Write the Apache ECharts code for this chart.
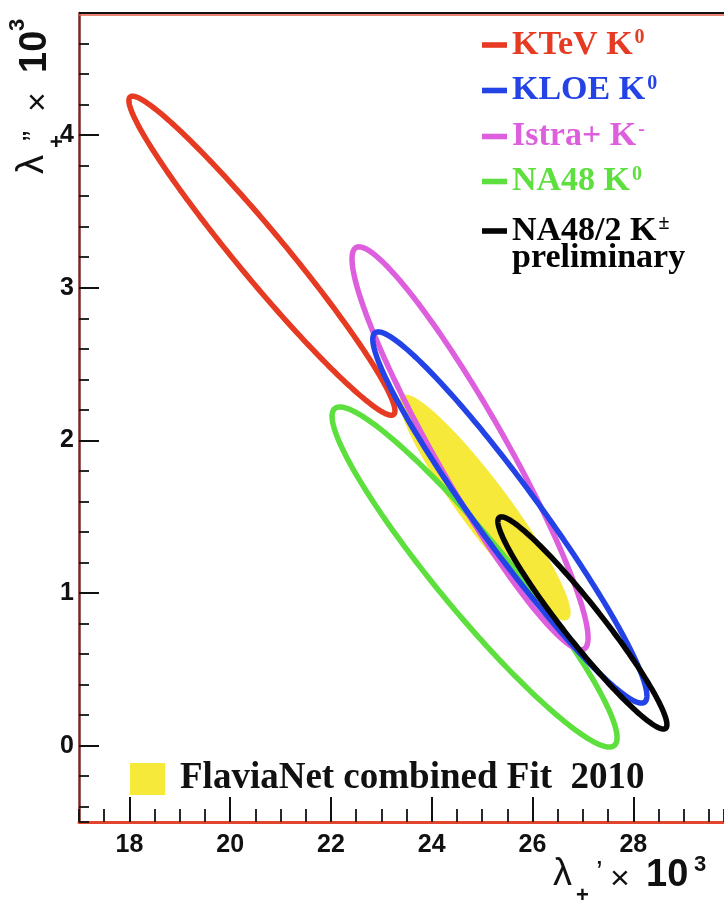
<!DOCTYPE html>
<html>
<head>
<meta charset="utf-8">
<script src="https://cdn.jsdelivr.net/npm/echarts@6/dist/echarts.min.js"></script>
<style>
  html, body { margin: 0; padding: 0; background: #ffffff; }
  #chart { width: 724px; height: 904px; }
</style>
</head>
<body>
<div id="chart"></div>
<script>
// K_l3 vector form-factor slopes: 1-sigma contours in the (λ+', λ+'') plane, both ×10^3
const experiments = ['KTeV K', 'KLOE K', 'Istra+ K', 'NA48 K', 'NA48/2 K'];
const kaonCharge  = ['0', '0', '-', '0', '±'];
const lambdaLin   = [20.63, 25.55, 24.76, 24.85, 26.99];     // contour centre in λ+'
const lambdaQuad  = [3.21, 1.495, 1.948, 1.105, 0.804];      // contour centre in λ+''
const spanLin     = [2.64, 2.72, 2.342, 2.828, 1.677];       // half-extent along λ+'
const spanQuad    = [1.045, 1.216, 1.32, 1.114, 0.695];      // half-extent along λ+''
const correlation = [-0.972, -0.96, -0.94, -0.945, -0.958];
const lineColors  = ['#e63b22', '#2443e6', '#dd5fdd', '#5ddf3e', '#050505'];

// FlaviaNet combined fit 2010
const fitLabel = 'FlaviaNet combined Fit  2010';
const fitLin = 25.06, fitQuad = 1.56, fitSpanLin = 1.687, fitSpanQuad = 0.737, fitCorr = -0.935;

const xTickLabels = [18, 20, 22, 24, 26, 28];
const yTickLabels = [0, 1, 2, 3, 4];

const X_MIN = 17, X_MAX = 29.8, Y_MIN = -0.5, Y_MAX = 4.8;

// Contour of a correlated pair: x = cx + sx cos t, y = cy + sy cos(t + acos(rho))
function contourPoints(api) {
  const cx = api.value(0), cy = api.value(1);
  const sx = api.value(2), sy = api.value(3), rho = api.value(4);
  const delta = Math.acos(rho);
  const pts = [];
  const n = 240;
  for (let i = 0; i < n; i++) {
    const t = (i / n) * 2 * Math.PI;
    pts.push(api.coord([cx + sx * Math.cos(t), cy + sy * Math.cos(t + delta)]));
  }
  return pts;
}

function contourSeries(name, row, color, filled) {
  return {
    name: name,
    type: 'custom',
    xAxisIndex: 0,
    yAxisIndex: 0,
    clip: true,
    encode: { x: 0, y: 1 },
    data: [row],
    renderItem: function (params, api) {
      return {
        type: 'polygon',
        shape: { points: contourPoints(api), smooth: 0 },
        style: filled
          ? { fill: color, stroke: color, lineWidth: 1 }
          : { fill: 'none', stroke: color, lineWidth: 5.5, lineJoin: 'round' }
      };
    }
  };
}

const series = [contourSeries('FlaviaNet', [fitLin, fitQuad, fitSpanLin, fitSpanQuad, fitCorr], '#f7e93a', true)];
const drawOrder = [0, 3, 2, 1, 4];
drawOrder.forEach(function (i) {
  series.push(contourSeries(experiments[i], [lambdaLin[i], lambdaQuad[i], spanLin[i], spanQuad[i], correlation[i]], lineColors[i], false));
});

const serif = "'Liberation Serif', 'Times New Roman', serif";
const sans = "'Liberation Sans', Arial, Helvetica, sans-serif";

// legend rows (top right)
const legendY = [45, 90.5, 136.5, 181.5, 231];
const graphics = [];
experiments.forEach(function (label, i) {
  graphics.push({
    type: 'rect', z: 100,
    shape: { x: 482, y: legendY[i] - 2.8, width: 25, height: 5.6 },
    style: { fill: lineColors[i] }
  });
  graphics.push({
    type: 'text', z: 100, x: 512, y: legendY[i],
    style: {
      text: '{m|' + label + '}{s|' + kaonCharge[i] + '}',
      align: 'left', verticalAlign: 'middle',
      rich: {
        m: { fontFamily: serif, fontWeight: 'bold', fontSize: 34, fill: lineColors[i], lineHeight: 34 },
        s: { fontFamily: serif, fontWeight: 'bold', fontSize: 20, fill: lineColors[i], verticalAlign: 'top', lineHeight: 18, padding: [0, 0, 0, 2] }
      }
    }
  });
});
graphics.push({
  type: 'text', z: 100, x: 512, y: 258,
  style: { text: 'preliminary', fontFamily: serif, fontWeight: 'bold', fontSize: 34, fill: '#050505', align: 'left', verticalAlign: 'middle' }
});

// combined-fit legend (bottom)
graphics.push({ type: 'rect', z: 100, shape: { x: 130, y: 763, width: 35, height: 32 }, style: { fill: '#f7e93a' } });
graphics.push({
  type: 'text', z: 100, x: 180, y: 778,
  style: { text: fitLabel, fontFamily: serif, fontWeight: 'bold', fontSize: 37, fill: '#111111', align: 'left', verticalAlign: 'middle' }
});

// frame: upper border
graphics.push({ type: 'line', z: 90, shape: { x1: 79, y1: 13, x2: 724, y2: 13 }, style: { stroke: '#111111', lineWidth: 2 } });
graphics.push({ type: 'line', z: 90, shape: { x1: 79, y1: 15, x2: 724, y2: 15 }, style: { stroke: '#e35a4a', lineWidth: 1.5 } });

// axis-title text pieces
function t(x, y, text, size, weight, family, align) {
  return { type: 'text', x: x, y: y, style: { text: text, fontSize: size, fontWeight: weight || 'normal', fontFamily: family || sans, fill: '#111111', align: align || 'left', verticalAlign: 'middle' } };
}
// x-axis title: λ+' × 10^3
graphics.push({
  type: 'group', z: 100,
  children: [
    t(553, 875, 'λ', 38),
    t(576, 896, '+', 22, 'bold'),
    t(596, 873, '\u2019', 30),
    t(610, 880, '\u00d7', 34),
    t(646, 876, '10', 38, 'bold'),
    t(694, 865, '3', 22, 'bold')
  ]
});
// y-axis title: λ+'' × 10^3, rotated
graphics.push({
  type: 'group', z: 100, x: 0, y: 0, rotation: Math.PI / 2,
  children: [
    t(-174, 33, 'λ', 38),
    t(-148, 58, '+', 22, 'bold'),
    t(-141, 35, '\u201d', 30),
    t(-112, 39, '\u00d7', 34),
    t(-73, 36, '10', 38, 'bold'),
    t(-31, 18, '3', 22, 'bold')
  ]
});

const chart = echarts.init(document.getElementById('chart'), null, { renderer: 'canvas' });
chart.setOption({
  backgroundColor: '#ffffff',
  animation: false,
  grid: { left: 79, right: 0, top: 13, bottom: 82, containLabel: false },
  xAxis: [
    {
      type: 'value', min: X_MIN, max: X_MAX, splitNumber: 6,
      axisLine: { show: true, onZero: false, lineStyle: { color: '#e2442d', width: 3 } },
      axisTick: { show: true, inside: true, length: 25, lineStyle: { color: '#111111', width: 2 } },
      axisLabel: {
        show: true, margin: 11, showMinLabel: false, showMaxLabel: false,
        fontFamily: sans, fontWeight: 'bold', fontSize: 25, color: '#111111',
        formatter: function (v) { return xTickLabels.indexOf(Math.round(v * 1000) / 1000) >= 0 ? String(v) : ''; }
      },
      splitLine: { show: false }
    },
    {
      type: 'value', min: X_MIN, max: X_MAX, splitNumber: 25, position: 'bottom',
      axisLine: { show: false, onZero: false },
      axisTick: { show: true, inside: true, length: 13, lineStyle: { color: '#111111', width: 1.8 } },
      axisLabel: { show: false },
      splitLine: { show: false }
    }
  ],
  yAxis: [
    {
      type: 'value', min: Y_MIN, max: Y_MAX, splitNumber: 5,
      axisLine: { show: true, onZero: false, lineStyle: { color: '#7a2626', width: 2.5 } },
      axisTick: { show: true, inside: true, length: 20, lineStyle: { color: '#111111', width: 2 } },
      axisLabel: {
        show: true, margin: 5, showMinLabel: false, showMaxLabel: false,
        fontFamily: sans, fontWeight: 'bold', fontSize: 25, color: '#111111',
        formatter: function (v) { return yTickLabels.indexOf(Math.round(v * 1000) / 1000) >= 0 ? String(v) : ''; }
      },
      splitLine: { show: false }
    },
    {
      type: 'value', min: Y_MIN, max: Y_MAX, splitNumber: 26, position: 'left',
      axisLine: { show: false, onZero: false },
      axisTick: { show: true, inside: true, length: 10, lineStyle: { color: '#111111', width: 1.8 } },
      axisLabel: { show: false },
      splitLine: { show: false }
    }
  ],
  series: series,
  graphic: graphics
});
</script>
</body>
</html>
